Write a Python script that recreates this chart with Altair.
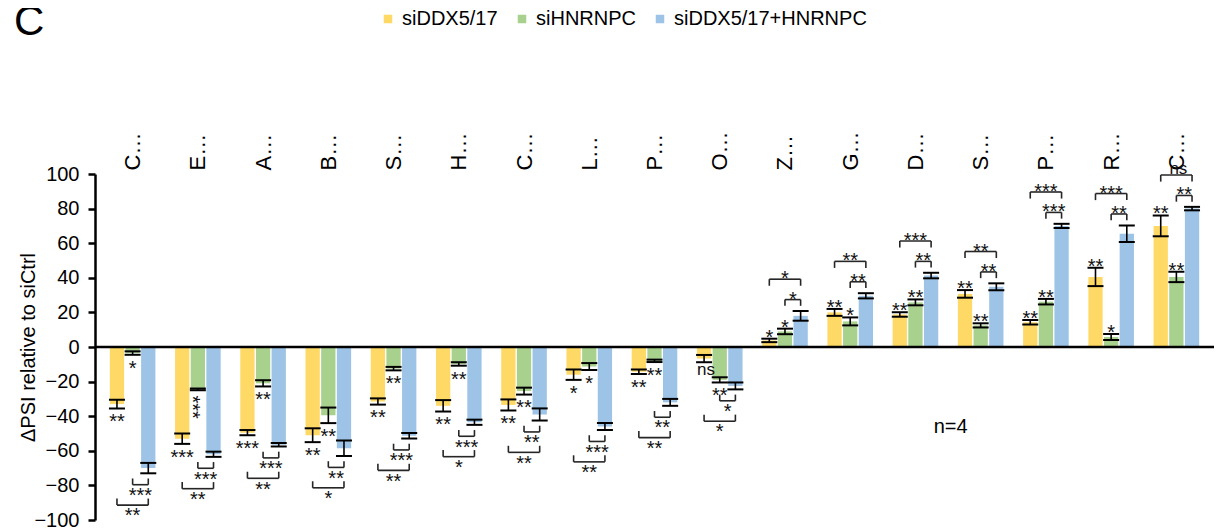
import altair as alt
import pandas as pd

# ---------------- data ----------------
labels = ["C…", "E…", "A…", "B…", "S…", "H…", "C…", "L…", "P…", "O…",
          "Z…", "G…", "D…", "S…", "P…", "R…", "C…"]
series = ["siDDX5/17", "siHNRNPC", "siDDX5/17+HNRNPC"]
colors = ["#FFD966", "#A9D18E", "#9DC3E6"]

ddx = [-33, -53, -49.5, -51, -31.5, -34, -33.5, -16, -14.3, -6.7,
       3.8, 20, 18.8, 30.7, 14.3, 40.5, 70]
ddx_err = [2.5, 3, 1.5, 4, 1.8, 3.3, 3.2, 3, 1.3, 2.1,
           1, 2, 1.3, 2.2, 1.3, 5.3, 6]
hnrnpc = [-3.5, -24.5, -21, -39.5, -12.5, -9.8, -25.5, -11.3, -8, -19,
          9, 14.8, 25.8, 12.5, 26.2, 5.8, 40.5]
hnrnpc_err = [1, 0.5, 1.8, 4.5, 1, 1, 2, 2, 0.7, 1.5,
              1.6, 2.3, 1.7, 1.2, 1.6, 1.7, 3]
double = [-70, -62, -56.5, -58.5, -51.3, -43.5, -39, -46, -32, -22.5,
          18, 29.6, 41.3, 34.8, 70, 65.5, 80]
double_err = [3, 1.5, 1, 4.5, 1.6, 1.5, 3.5, 2, 2, 2,
              2.8, 1.5, 1.6, 2, 1.2, 4.8, 1]

sig_ddx = ["**", "***", "***", "**", "**", "**", "**", "*", "**", "ns",
           "*", "**", "**", "**", "**", "**", "**"]
sig_hnrnpc = ["*", "***", "**", "**", "**", "**", "**", "*", "**", "**",
              "*", "*", "**", "**", "**", "*", "**"]
sig_hnrnpc_vs_double = ["***", "***", "***", "**", "***", "***", "**", "***", "**", "*",
                        "*", "**", "**", "**", "***", "**", "**"]
sig_ddx_vs_double = ["**", "**", "**", "*", "**", "*", "**", "**", "**", "*",
                     "*", "**", "***", "**", "***", "***", "ns"]

n_note = {"x": 12.54, "y": -46, "text": "n=4"}

# ---------------- tables ----------------
FONT = "Liberation Sans, Arial, sans-serif"
STEP = 0.24
n = len(labels)
vals = [(ddx, ddx_err), (hnrnpc, hnrnpc_err), (double, double_err)]

bar_rows = []
for i in range(n):
    for k, (v, e) in enumerate(vals):
        bar_rows.append({"x": i + (k - 1) * STEP, "v": v[i], "lo": v[i] - e[i],
                         "hi": v[i] + e[i], "series": series[k]})
bars_df = pd.DataFrame(bar_rows)

ann_rows, vert_rows, seg_rows = [], [], []
for i in range(n):
    d = 1 if double[i] > 0 else -1
    for k, sig in ((0, sig_ddx), (1, sig_hnrnpc)):
        v, e = vals[k][0][i], vals[k][1][i]
        end = v + d * e
        if i == 1 and k == 1:
            vert_rows.append({"x": i + (k - 1) * STEP, "y": end - 9.8, "t": sig[i]})
            continue
        y = end + 0.6 if d > 0 else end - 8
        ann_rows.append({"x": i + (k - 1) * STEP, "y": y, "t": sig[i]})
    ends = [hnrnpc[i] + d * hnrnpc_err[i], double[i] + d * double_err[i]]
    base = max(ends) if d > 0 else min(ends)
    s_top = base + d * 3
    s_bar = base + d * 6.6
    xa, xb = i, i + STEP
    seg_rows += [
        {"x": xa, "x2": xa, "y": s_top, "y2": s_bar},
        {"x": xb, "x2": xb, "y": s_top, "y2": s_bar},
        {"x": xa, "x2": xb, "y": s_bar, "y2": s_bar},
    ]
    ann_rows.append({"x": (xa + xb) / 2, "y": s_bar + (0 if d > 0 else -6.5),
                     "t": sig_hnrnpc_vs_double[i]})
    b_top = s_bar + d * 8
    b_bar = s_bar + d * 11.8
    xa, xb = i - STEP, i + STEP
    seg_rows += [
        {"x": xa, "x2": xa, "y": b_top, "y2": b_bar},
        {"x": xb, "x2": xb, "y": b_top, "y2": b_bar},
        {"x": xa, "x2": xb, "y": b_bar, "y2": b_bar},
    ]
    ann_rows.append({"x": (xa + xb) / 2, "y": b_bar + (0 if d > 0 else -6.5),
                     "t": sig_ddx_vs_double[i]})

ann_df = pd.DataFrame(ann_rows)
stars_df = ann_df[ann_df["t"] != "ns"]
ns_df = ann_df[ann_df["t"] == "ns"]
vert_df = pd.DataFrame(vert_rows)
seg_df = pd.DataFrame(seg_rows)
note_df = pd.DataFrame([n_note])

# ---------------- scales / axes ----------------
xscale = alt.Scale(domain=[-0.5, n - 0.5], nice=False, zero=False)
yscale = alt.Scale(domain=[-100, 100], nice=False)

label_expr = "[" + ",".join("'" + l + "'" for l in labels) + "][datum.value]"
top_axis = alt.Axis(orient="top", values=list(range(n)), labelExpr=label_expr,
                    labelAngle=270, labelAlign="left", labelBaseline="middle",
                    domain=False, ticks=False, grid=False, labelPadding=4,
                    labelFontSize=22, labelFont=FONT, labelColor="black",
                    labelOverlap=False, labelFlush=False, title=None)
y_axis = alt.Axis(values=list(range(-100, 101, 20)), grid=False,
                  title="ΔPSI relative to siCtrl", titleFont=FONT, titleFontSize=20,
                  titleFontWeight="normal", titleColor="black", titleAngle=270,
                  titleX=-67, titleY=173, titleAlign="center", titleBaseline="middle",
                  labelFont=FONT, labelFontSize=20, labelColor="black", labelPadding=9,
                  domainColor="black", domainWidth=2.5, tickColor="black",
                  tickWidth=2.5, tickSize=7)


def X(field="x"):
    return alt.X(f"{field}:Q", scale=xscale, axis=top_axis)


def Y(field):
    return alt.Y(f"{field}:Q", scale=yscale, axis=y_axis)


legend = alt.Legend(orient="none", legendX=283, legendY=-165, direction="horizontal",
                    title=None, symbolType="square", symbolSize=72,
                    symbolStrokeWidth=0, labelFont=FONT, labelFontSize=20,
                    labelColor="black", labelOffset=4, columnPadding=14, padding=0,
                    labelLimit=400)

bars = alt.Chart(bars_df).mark_bar(size=14.3, orient="vertical").encode(
    x=X(), y=Y("v"),
    color=alt.Color("series:N", scale=alt.Scale(domain=series, range=colors),
                    legend=legend, sort=series),
)

zero = alt.Chart(pd.DataFrame({"z": [0]})).mark_rule(color="black", strokeWidth=2.5).encode(
    y=Y("z"))

err = alt.Chart(bars_df).mark_rule(color="black", strokeWidth=1.6).encode(
    x=X(), y=Y("lo"), y2="hi:Q")
cap_lo = alt.Chart(bars_df).mark_tick(orient="horizontal", size=16, thickness=2,
                                      color="black", opacity=1).encode(x=X(), y=Y("lo"))
cap_hi = alt.Chart(bars_df).mark_tick(orient="horizontal", size=16, thickness=2,
                                      color="black", opacity=1).encode(x=X(), y=Y("hi"))

segs = alt.Chart(seg_df).mark_rule(color="#262626", strokeWidth=1.6).encode(
    x=X(), x2="x2:Q", y=Y("y"), y2="y2:Q")

text_kw = dict(font=FONT, baseline="middle", align="center", color="#111111")
stars = alt.Chart(stars_df).mark_text(fontSize=20, **text_kw).encode(
    x=X(), y=Y("y"), text="t:N")
ns = alt.Chart(ns_df).mark_text(fontSize=17, dy=-6.5, dx=2, **text_kw).encode(
    x=X(), y=Y("y"), text="t:N")
vert = alt.Chart(vert_df).mark_text(fontSize=20, angle=90, dy=6, **text_kw).encode(
    x=X(), y=Y("y"), text="t:N")
note = alt.Chart(note_df).mark_text(font=FONT, fontSize=20, baseline="middle",
                                    align="center", color="black").encode(
    x=X(), y=Y("y"), text="text:N")

chart = alt.layer(bars, zero, err, cap_lo, cap_hi, segs, stars, ns, vert, note).properties(
    width=1119, height=346,
    padding={"left": 87, "top": 166, "right": 0, "bottom": 10},
    autosize=alt.AutoSizeParams(type="none"),
    background="white",
    title=alt.Title("C", anchor="start", frame="group", fontSize=42, fontWeight="normal",
                    font=FONT, color="black", dx=-81, dy=39),
).configure_view(stroke=None)

chart.save("out.html", embed_options={"renderer": "svg", "actions": False})
